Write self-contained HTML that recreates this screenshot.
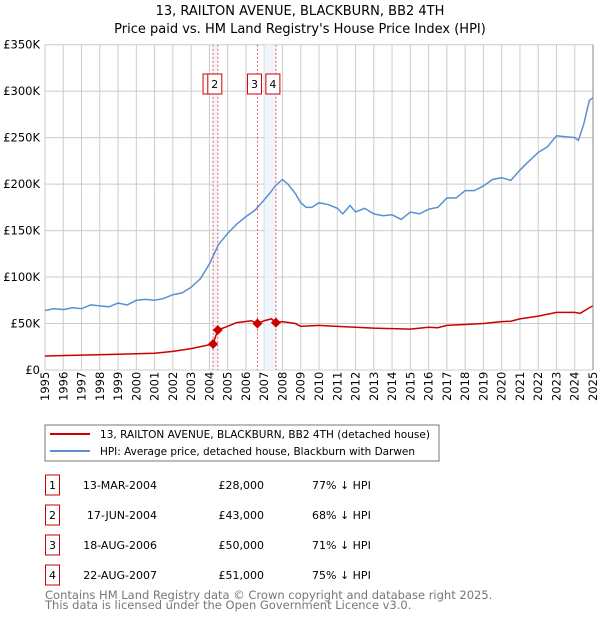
<!DOCTYPE html>
<html><head><meta charset="utf-8"><style>
body{margin:0;background:#fff;width:600px;height:620px;overflow:hidden;font-family:"DejaVu Sans","Liberation Sans",sans-serif;}
svg text{font-family:"DejaVu Sans","Liberation Sans",sans-serif;}
</style></head><body>
<svg id="c" width="600" height="620" xmlns="http://www.w3.org/2000/svg">
<text x="300" y="15" text-anchor="middle" font-size="13">13, RAILTON AVENUE, BLACKBURN, BB2 4TH</text>
<text x="300" y="33" text-anchor="middle" font-size="13">Price paid vs. HM Land Registry's House Price Index (HPI)</text>
<g id="grid"></g><g id="shade"></g><g id="series"></g><g id="marks"></g><g id="axes"></g>
<rect x="45" y="425" width="394" height="36" fill="#fff" stroke="#777"/>
<line x1="50" y1="434" x2="90" y2="434" stroke="#cc0000" stroke-width="2"/>
<text x="100" y="438" font-size="10.5" textLength="330">13, RAILTON AVENUE, BLACKBURN, BB2 4TH (detached house)</text>
<line x1="50" y1="451" x2="90" y2="451" stroke="#5b8fd4" stroke-width="2"/>
<text x="100" y="455" font-size="10.5" textLength="315">HPI: Average price, detached house, Blackburn with Darwen</text>
<g id="table" font-size="11"></g>
<text x="45" y="599" font-size="11.5" fill="#777">Contains HM Land Registry data © Crown copyright and database right 2025.</text>
<text x="45" y="609" font-size="11.5" fill="#777">This data is licensed under the Open Government Licence v3.0.</text>
</svg>
<script>
const hpiT=[1995,1995.5,1996,1996.5,1997,1997.5,1998,1998.5,1999,1999.5,2000,2000.5,2001,2001.5,2002,2002.5,2003,2003.5,2004,2004.5,2005,2005.5,2006,2006.5,2007,2007.3,2007.6,2008,2008.3,2008.7,2009,2009.3,2009.6,2010,2010.5,2011,2011.3,2011.7,2012,2012.5,2013,2013.5,2014,2014.5,2015,2015.5,2016,2016.5,2017,2017.5,2018,2018.5,2019,2019.5,2020,2020.5,2021,2021.3,2022,2022.5,2023,2023.5,2024,2024.2,2024.5,2024.8,2025];
const hpiV=[64,66,65,67,66,70,69,68,72,70,75,76,75,77,81,83,89,98,114,135,147,157,165,172,183,190,198,205,200,190,180,175,175,180,178,174,168,177,170,174,168,166,167,162,170,168,173,175,185,185,193,193,198,205,207,204,215,221,234,240,252,251,250,247,265,290,293];
const propT=[1995,1997,1999,2001,2002,2003,2004.2,2004.46,2005,2005.5,2006.3,2006.63,2007,2007.4,2007.64,2008,2008.7,2009,2010,2011,2012,2013,2014,2015,2016,2016.5,2017,2018,2019,2020,2020.5,2021,2022,2023,2024,2024.3,2024.8,2025];
const propV=[15,16,17,18,20,23,28,43,47,51,53,50,53,55,51,52,50,47,48,47,46,45,44.5,44,46,45.5,48,49,50,52,52.5,55,58,62,62,61,67,69];
const saleT=[2004.2,2004.46,2006.63,2007.64];
const saleV=[28,43,50,51];
const saleLabels=["1","2","3","4"];
const saleDates=["13-MAR-2004","17-JUN-2004","18-AUG-2006","22-AUG-2007"];
const salePrices=["£28,000","£43,000","£50,000","£51,000"];
const saleHpi=["77% ↓ HPI","68% ↓ HPI","71% ↓ HPI","75% ↓ HPI"];
const yTicks=[0,50,100,150,200,250,300,350];
const yTickLabels=["£0","£50K","£100K","£150K","£200K","£250K","£300K","£350K"];
const xYears=[1995,1996,1997,1998,1999,2000,2001,2002,2003,2004,2005,2006,2007,2008,2009,2010,2011,2012,2013,2014,2015,2016,2017,2018,2019,2020,2021,2022,2023,2024,2025];
const NS="http://www.w3.org/2000/svg";
const X0=45,X1=593,Y0=370,Y1=44.7;
const xs=t=>X0+(t-1995)/30*(X1-X0);
const ys=v=>Y0-v/350*(Y0-Y1);
function mk(p,tag,a){const e=document.createElementNS(NS,tag);for(const k in a)e.setAttribute(k,a[k]);document.getElementById(p).appendChild(e);return e;}
xYears.forEach(y=>{
 const l=mk('grid','line',{x1:xs(y),x2:xs(y),y1:Y1,y2:Y0,stroke:'#cccccc','stroke-width':1});
 
 
 const t=mk('axes','text',{transform:`translate(${xs(y)+4},${Y0+31}) rotate(-90)`,'font-size':11.5});
 t.textContent=y;
 
 
});
yTicks.forEach((v,i)=>{
 const l=mk('grid','line',{x1:X0,x2:X1,y1:ys(v),y2:ys(v),stroke:'#cccccc','stroke-width':1});
 
 
 const t=mk('axes','text',{x:40,y:ys(v)+4,'text-anchor':'end','font-size':11.5});
 t.textContent=yTickLabels[i];
 
 
});
const r1=mk('shade','rect',{x:xs(saleT[0]),y:Y1,width:xs(saleT[1])-xs(saleT[0]),height:Y0-Y1,fill:'#eef2fb',opacity:0.8});


const r2=mk('shade','rect',{x:xs(2007),y:Y1,width:xs(saleT[3])-xs(2007),height:Y0-Y1,fill:'#eef2fb',opacity:0.8});


const hp=mk('series','polyline',{points:hpiT.map((t,i)=>xs(t)+','+ys(hpiV[i])).join(' '),fill:'none',stroke:'#5b8fd4','stroke-width':1.5});


const pp=mk('series','polyline',{points:propT.map((t,i)=>xs(t)+','+ys(propV[i])).join(' '),fill:'none',stroke:'#cc0000','stroke-width':1.5});


const ax=mk('axes','line',{x1:X1,x2:X1,y1:Y1,y2:Y0,stroke:'#888','stroke-width':1});


saleT.forEach((t,i)=>{
 const x=xs(t);
 const l=mk('marks','line',{x1:x,x2:x,y1:Y1,y2:Y0,stroke:'#e06060','stroke-width':1,'stroke-dasharray':'2,2'});
 
 
 const d=mk('marks','path',{d:`M${x} ${ys(saleV[i])-5}L${x+5} ${ys(saleV[i])}L${x} ${ys(saleV[i])+5}L${x-5} ${ys(saleV[i])}Z`,fill:'#cc0000'});
 
 
 const b=mk('marks','rect',{x:x-10,y:74,width:14,height:20,fill:'#fff',stroke:'#cc0000','stroke-width':1});
 
 
 const tx=mk('marks','text',{x:x-3,y:88,'text-anchor':'middle','font-size':11});
 tx.textContent=saleLabels[i];
 
 
 const ry=475+i*30;
 const tb=mk('table','rect',{x:45.5,y:ry,width:14,height:20,fill:'#fff',stroke:'#cc0000','stroke-width':1});
 
 
 const tn=mk('table','text',{x:52.5,y:ry+14,'text-anchor':'middle'});
 tn.textContent=saleLabels[i];
 
 
 const td=mk('table','text',{x:157,y:ry+14,'text-anchor':'end'});
 td.textContent=saleDates[i];
 
 
 const tp=mk('table','text',{x:264,y:ry+14,'text-anchor':'end'});
 tp.textContent=salePrices[i];
 
 
 const th=mk('table','text',{x:312,y:ry+14});
 th.textContent=saleHpi[i];
 
 
});
</script>
</body></html>
